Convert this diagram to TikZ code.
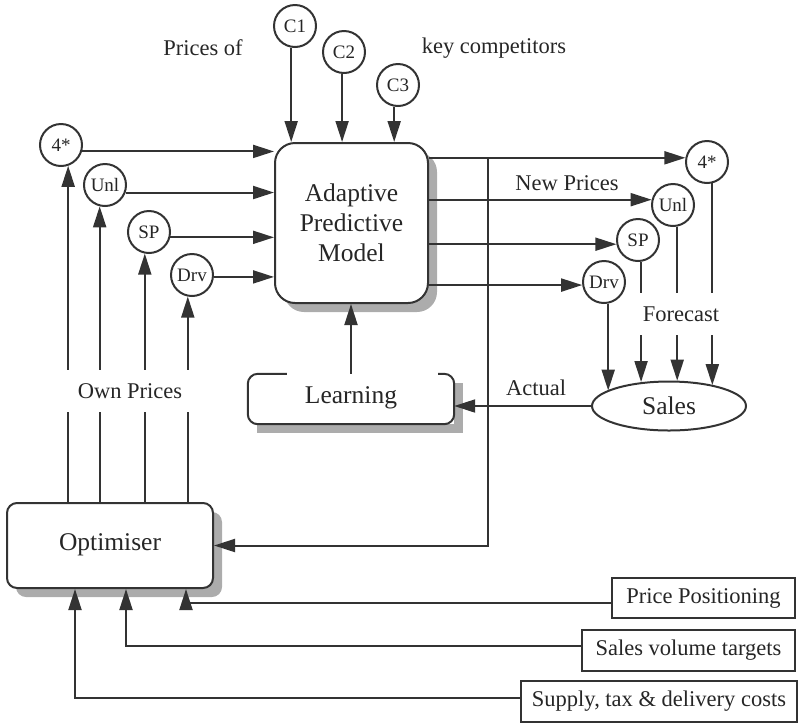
\documentclass[tikz,border=0pt]{standalone}
\usepackage{fontspec}
\setmainfont{Liberation Serif}
\usetikzlibrary{arrows.meta,shapes.geometric,shadows}

\begin{document}
\begin{tikzpicture}[x=1pt,y=-1pt,
  ink/.style={draw=black!80, line width=2pt},
  conn/.style={ink, -{Triangle[length=21pt,width=13pt]}},
  shade/.style={drop shadow={shadow xshift=9pt, shadow yshift=-9pt, fill=gray!65, opacity=1}},
  bigtext/.style={font=\fontsize{25.5}{30}\selectfont, text=black!85},
  lbl/.style={font=\fontsize{22.5}{24}\selectfont, text=black!85},
  pcircle/.style={circle, ink, fill=white, minimum size=42pt, inner sep=0pt,
    font=\fontsize{19}{19}\selectfont, text=black!85},
  gaplabel/.style={lbl, fill=white, inner sep=0pt, minimum height=42pt},
  inbox/.style={rectangle, ink, fill=white, lbl, inner sep=0pt, minimum height=40pt},
]
\useasboundingbox (0,0) rectangle (800,724);

% central model, learning block, sales, optimiser
\node[ink, fill=white, rounded corners=20pt, shade, bigtext, align=center,
      minimum width=153pt, minimum height=160pt] (apm) at (351.5,223)
      {Adaptive\\Predictive\\Model};
\node[fill=white, shade, bigtext, inner sep=0pt,
      minimum width=206pt, minimum height=50pt] (learn) at (351,399) {\raisebox{8pt}{Learning}};
\draw[ink, rounded corners=10pt]
  ([xshift=39pt]learn.north west) -- (learn.north west) -- (learn.south west)
  -- (learn.south east) -- (learn.north east) -- ([xshift=-16pt]learn.north east);
\node[ellipse, ink, fill=white, bigtext, inner sep=0pt,
      minimum width=154pt, minimum height=49pt] (sales) at (669,406) {Sales};
\node[ink, fill=white, rounded corners=10pt, shade, bigtext,
      minimum width=206pt, minimum height=85pt] (opt) at (110,545.5)
      {\raisebox{6pt}{Optimiser}};

% competitor prices
\node[pcircle] (c1) at (295,26) {C1};
\node[pcircle] (c2) at (344,52) {C2};
\node[pcircle] (c3) at (398,85) {C3};
\node[lbl] (pricesof) at (203,48) {Prices of};
\node[lbl] (keycomp) at (494,48) {key competitors};

% own prices (inputs to the model)
\node[pcircle] (l4) at (61,145) {4*};
\node[pcircle] (lu) at (105,185) {Unl};
\node[pcircle] (ls) at (149,232) {SP};
\node[pcircle] (ld) at (192,275) {Drv};

% new prices (outputs of the model)
\node[pcircle] (r4) at (707,162) {4*};
\node[pcircle] (ru) at (673,205) {Unl};
\node[pcircle] (rs) at (638,240) {SP};
\node[pcircle] (rd) at (604,282) {Drv};
\node[lbl] (newprices) at (567,183) {New Prices};
\node[lbl] (actual) at (536,388) {Actual};

% external inputs
\node[inbox, minimum width=183pt] (pp) at (703.5,598) {Price Positioning};
\node[inbox, minimum width=213pt, minimum height=41pt] (svt) at (688.5,650.5) {Sales volume targets};
\node[inbox, minimum width=276pt, minimum height=41pt] (stdc) at (659,701.5) {Supply, tax \& delivery costs};

% competitor arrows
\draw[conn] (c1.-100) -- (c1.-100 |- apm.north);
\draw[conn] (c2.-95) -- (c2.-95 |- apm.north);
\draw[conn] (c3.-100) -- (c3.-100 |- apm.north);

% own prices into the model
\draw[conn] (l4.-17) -- (l4.-17 -| apm.west);
\draw[conn] (lu.-20) -- (lu.-20 -| apm.west);
\draw[conn] (ls.-14) -- (ls.-14 -| apm.west);
\draw[conn] (ld.-5) -- (ld.-5 -| apm.west);

% optimiser sets own prices
\draw[conn] (opt.north -| l4.-71) -- (l4.-71);
\draw[conn] (opt.north -| lu.-104) -- (lu.-104);
\draw[conn] (opt.north -| ls.-101) -- (ls.-101);
\draw[conn] (opt.north -| ld.-101) -- (ld.-101);

% model outputs
\draw[conn] (r4.169 -| apm.east) -- (r4.169);
\draw[conn] (ru.166 -| apm.east) -- (ru.166);
\draw[conn] (rs.191 -| apm.east) -- (rs.191);
\draw[conn] (rd.188 -| apm.east) -- (rd.188);

% forecasts into sales
\draw[conn] (rd.-79) -- (rd.-79 |- sales.166);
\draw[conn] (rs.-82) -- (rs.-82 |- sales.138);
\draw[conn] (ru.-79) -- (ru.-79 |- sales.71);
\draw[conn] (r4.-76) -- (r4.-76 |- sales.25);

% learning loop
\draw[conn] (sales.west) -- (sales.west -| learn.east);
\draw[conn] (learn.north) -- (learn.north |- apm.south);

% feedback of new prices to the optimiser
\coordinate (fbx) at (488,0);
\coordinate (fb) at (r4.169 -| fbx);
\draw[conn] (fb) |- (opt.east);

% constraints into the optimiser
\draw[conn] ([yshift=-5pt]pp.west) -| ([xshift=180pt]opt.south west);
\draw[conn] ([yshift=4.5pt]svt.west) -| ([xshift=120pt]opt.south west);
\draw[conn] ([yshift=3.5pt]stdc.west) -| ([xshift=69pt]opt.south west);

% labels that break the vertical lines
\node[gaplabel, minimum width=132pt] (ownprices) at (130,391) {Own Prices};
\node[gaplabel, minimum width=86pt] (forecast) at (681,314) {Forecast};
\end{tikzpicture}
\end{document}
